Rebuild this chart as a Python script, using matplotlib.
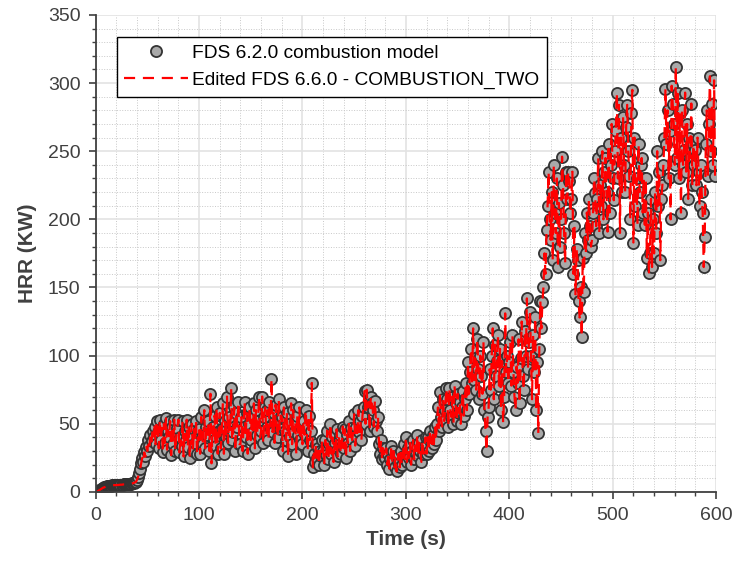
import matplotlib.pyplot as plt
from matplotlib.ticker import MultipleLocator

plt.rcParams['font.family'] = ['Liberation Sans', 'DejaVu Sans']

# one sample per second, 0 .. 599 s
time = list(range(0, 600))

hrr = [
    0, 0.3, 0.6, 1, 1.5, 2, 2.5, 3, 3.3, 3.6, 3.9, 4.1, 4.3, 4.5, 4.6, 4.7, 4.8, 4.9, 5, 5,
    5, 5.1, 5.1, 5.2, 5.3, 5.3, 5.4, 5.5, 5.5, 5.6, 5.7, 5.8, 5.9, 6, 6.1, 6.2, 6.4, 6.6, 7, 7.5,
    9, 11, 14, 17, 21, 25, 22, 29, 26, 33, 30, 38, 34, 42, 37, 45, 40, 48, 35, 52,
    44, 32, 53, 38, 47, 29, 50, 36, 54, 31, 45, 40, 52, 27, 48, 35, 53, 30, 42, 47,
    53, 29, 40, 34, 52, 26, 45, 38, 53, 33, 48, 25, 42, 50, 30, 46, 36, 52, 28, 44,
    46, 28, 55, 40, 35, 60, 32, 48, 42, 52, 30, 72, 21, 48, 38, 56, 34, 62, 28, 45,
    58, 32, 46, 65, 28, 52, 40, 70, 36, 55, 44, 76, 38, 44, 62, 30, 58, 48, 66, 35,
    35, 55, 30, 48, 66, 40, 58, 28, 50, 62, 38, 56, 44, 65, 32, 60, 42, 52, 70, 40,
    45, 70, 36, 55, 62, 42, 60, 38, 66, 48, 83, 44, 58, 36, 64, 50, 40, 68, 46, 56,
    55, 30, 62, 45, 38, 58, 26, 50, 40, 65, 35, 60, 44, 52, 28, 56, 42, 62, 38, 48,
    35, 52, 42, 60, 48, 30, 56, 38, 45, 80, 18, 28, 22, 35, 25, 32, 20, 30, 26, 38,
    30, 20, 38, 27, 45, 24, 35, 50, 28, 40, 22, 36, 30, 46, 26, 38, 42, 28, 34, 48,
    32, 46, 25, 42, 36, 52, 30, 47, 38, 44, 57, 34, 48, 40, 60, 44, 52, 38, 56, 62,
    74, 50, 75, 62, 66, 45, 70, 65, 60, 48, 67, 52, 45, 55, 35, 28, 38, 24, 32, 26,
    25, 32, 20, 28, 17, 24, 34, 22, 30, 18, 26, 15, 22, 28, 18, 30, 20, 26, 35, 24,
    40, 22, 32, 25, 36, 20, 30, 38, 24, 34, 28, 42, 26, 36, 30, 22, 38, 28, 34, 40,
    28, 40, 30, 45, 36, 32, 42, 35, 48, 38, 50, 62, 45, 73, 55, 48, 68, 52, 60, 76,
    68, 48, 76, 60, 55, 70, 50, 78, 65, 52, 72, 58, 66, 50, 62, 74, 56, 68, 80, 60,
    95, 72, 88, 105, 80, 120, 82, 98, 75, 112, 90, 68, 100, 85, 72, 110, 60, 45, 30, 55,
    62, 90, 75, 100, 120, 68, 108, 85, 96, 115, 78, 105, 60, 96, 51, 70, 131, 88, 100, 80,
    95, 110, 78, 115, 88, 70, 60, 92, 80, 112, 65, 98, 125, 85, 75, 118, 100, 142, 90, 110,
    132, 100, 68, 115, 88, 128, 60, 95, 43, 105, 140, 120, 139, 150, 175, 160, 192, 210, 235, 200,
    185, 220, 170, 240, 205, 190, 230, 165, 212, 180, 200, 246, 225, 190, 168, 235, 215, 235, 228, 205,
    215, 235, 160, 195, 145, 178, 170, 140, 128, 150, 114, 172, 147, 190, 175, 205, 185, 215, 195, 180,
    185, 205, 230, 219, 195, 215, 245, 190, 225, 210, 250, 200, 235, 245, 220, 191, 255, 205, 240, 270,
    230, 214, 250, 265, 293, 230, 284, 190, 260, 220, 275, 240, 220, 268, 284, 250, 232, 200, 278, 295,
    183, 260, 210, 230, 196, 255, 220, 240, 245, 205, 230, 196, 230, 172, 205, 161, 175, 215, 165, 200,
    175, 220, 190, 250, 210, 235, 170, 215, 225, 240, 260, 296, 255, 280, 230, 265, 200, 298, 285, 270,
    240, 312, 245, 293, 230, 278, 205, 280, 240, 251, 293, 235, 270, 215, 260, 245, 285, 225, 255, 240,
    251, 225, 260, 235, 210, 240, 220, 205, 165, 187, 255, 280, 232, 270, 305, 250, 285, 240, 302, 232,
]

fig = plt.figure(figsize=(7.36, 5.74), dpi=100)
ax = fig.add_axes([0.130, 0.143, 0.843, 0.831])

ax.plot(time, hrr, linestyle='none', marker='o', markersize=8,
        markerfacecolor='#a9a9a9', markeredgecolor='#333333',
        markeredgewidth=1.3, label='FDS 6.2.0 combustion model')
ax.plot(time, hrr, color='red', linewidth=1.6, dashes=(5, 3.5),
        label='Edited FDS 6.6.0 - COMBUSTION_TWO')

ax.set_xlim(0, 600)
ax.set_ylim(0, 350)
ax.xaxis.set_major_locator(MultipleLocator(100))
ax.xaxis.set_minor_locator(MultipleLocator(20))
ax.yaxis.set_major_locator(MultipleLocator(50))
ax.yaxis.set_minor_locator(MultipleLocator(10))

ax.grid(True, which='major', color='#e3e3e3', linewidth=1.2)
ax.grid(True, which='minor', color='#c8c8c8', linestyle=':', linewidth=0.7)
ax.set_axisbelow(True)

for side in ['top', 'right']:
    ax.spines[side].set_visible(False)
for side in ['left', 'bottom']:
    ax.spines[side].set_color('#404040')
    ax.spines[side].set_linewidth(1.3)

ax.tick_params(which='major', direction='out', length=5, width=1.2,
               colors='#404040', labelsize=14, pad=6)
ax.tick_params(which='minor', direction='out', length=3, width=1.0,
               colors='#404040')

ax.set_xlabel('Time (s)', fontsize=15, fontweight='bold', color='#404040')
ax.set_ylabel('HRR (KW)', fontsize=15, fontweight='bold', color='#404040',
              labelpad=8)

leg = ax.legend(loc='upper left', bbox_to_anchor=(0.034, 0.954),
                borderaxespad=0, fontsize=13.8, numpoints=1,
                handlelength=3.3, handletextpad=0.25,
                fancybox=False, framealpha=1)
leg.get_frame().set_edgecolor('black')
leg.get_frame().set_linewidth(1.0)

fig.savefig('out.png', dpi=100)
